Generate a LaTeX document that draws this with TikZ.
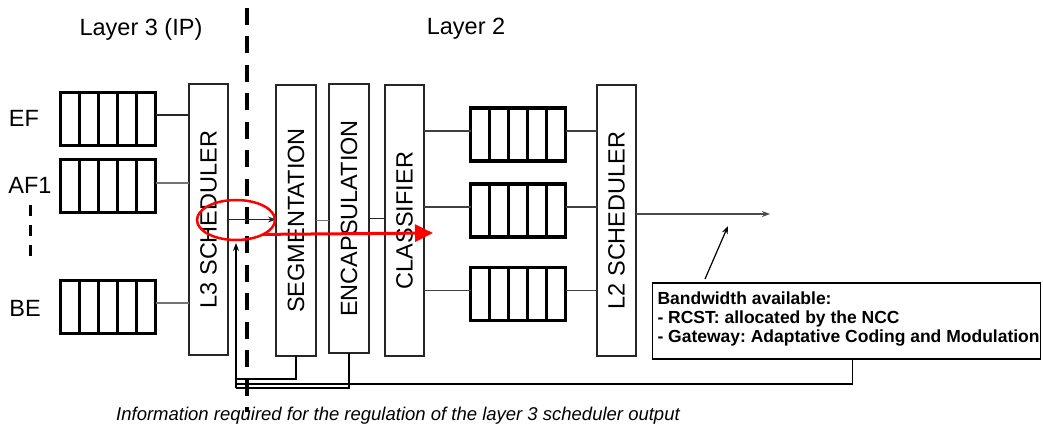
\documentclass[tikz,border=0pt]{standalone}
\usepackage{fontspec}
\setmainfont{Liberation Sans}
\usetikzlibrary{arrows.meta,calc,shapes.geometric}
\frenchspacing
\begin{document}
\begin{tikzpicture}[x=1pt,y=-1pt,
  every node/.style={inner sep=0pt, outer sep=0pt},
  unit/.style={draw=black!85, line width=1.3pt, minimum width=39pt, minimum height=271pt},
  vlabel/.style={rotate=90, font=\fontsize{23.5}{27}\selectfont},
  queue/.style={draw=black, line width=3.5pt, minimum width=95pt, minimum height=53pt},
  divider/.style={line width=2.3pt},
  big/.style={font=\fontsize{23.5}{27}\selectfont},
  conn/.style={line width=1.3pt, draw=black!85},
  gconn/.style={line width=1.3pt, draw=black!55},
  fb/.style={line width=1.2pt, draw=black},
  tip/.style={-{Stealth[length=8pt,width=6pt]}},
  hilite/.style={draw=red, line width=2.5pt, ellipse, minimum width=78pt, minimum height=40pt},
]
\fill[white] (0,0) rectangle (1043,430);

% titles
\node[big] (t3) at (141,29) {Layer 3 (IP)};
\node[big] (t2) at (466,29) {Layer 2};

% layer separator
\draw[line width=4pt, dash pattern=on 17pt off 11.5pt] (247,8) -- (247,412);

% class labels
\node[big] (lef) at (24,118) {EF};
\node[big] (laf) at (30,185) {AF1};
\node[big] (lbe) at (25,308) {BE};
\draw[line width=3pt, dash pattern=on 11pt off 9pt] (30,205) -- (30,258);

% layer 3 queues
\node[queue] (ef) at (108,119) {};
\node[queue] (af) at (108,186) {};
\node[queue] (be) at (108,307) {};

% layer 2 queues
\node[queue] (q1) at (518,134.5) {};
\node[queue] (q2) at (518,210.5) {};
\node[queue] (q3) at (518,294) {};

\foreach \q in {ef,af,be,q1,q2,q3}{
  \foreach \i in {1,...,4}{
    \draw[divider] ($(\q.north west)!\i/5!(\q.north east)$) -- ($(\q.south west)!\i/5!(\q.south east)$);
  }
}

% processing units
\node[unit, label={[vlabel]center:L3 SCHEDULER}] (l3) at (208.5,219.5) {};
\node[unit, minimum width=40pt, label={[vlabel]center:SEGMENTATION}] (seg) at (296,220.5) {};
\node[unit, minimum width=40pt, minimum height=269pt, label={[vlabel]center:ENCAPSULATION}] (enc) at (349,218.5) {};
\node[unit, label={[vlabel]center:CLASSIFIER}] (cls) at (404.5,220.5) {};
\node[unit, label={[vlabel]center:L2 SCHEDULER}] (l2) at (616.5,220.5) {};

% queue -> L3 scheduler
\draw[conn] ([yshift=4pt]ef.east) -- ([yshift=4pt]ef.east -| l3.west);
\draw[gconn] ([yshift=3pt]af.east) -- ([yshift=3pt]af.east -| l3.west);
\draw[gconn] ([yshift=4pt]be.east) -- ([yshift=4pt]be.east -| l3.west);

% chain
\draw[conn, tip] (l3.east) -- (seg.west |- l3.east);
\draw[gconn] (seg.east) -- (enc.west |- seg.east);
\draw[conn] (enc.east) -- (cls.west |- enc.east);

% classifier -> queues -> L2 scheduler
\foreach \q in {q1,q2,q3}{
  \draw[conn, draw=black!75, line width=1.5pt] ([yshift=3.5pt]\q.west -| cls.east) -- ([yshift=3.5pt]\q.west);
  \draw[conn, draw=black!75, line width=1.5pt] ([yshift=3.5pt]\q.east) -- ([yshift=3.5pt]\q.east -| l2.west);
}

% output
\coordinate (out) at (770,214);
\draw[line width=1.6pt, draw=black!70, tip] (out -| l2.east) -- (out);

% highlight
\node[hilite] (hl) at (236,220) {};
\coordinate (redtip) at (433,233);
\draw[red, line width=3pt, -{Triangle[length=18pt,width=17pt]}] (hl.-28) -- (redtip);

% bandwidth box
\node[draw=black, line width=1.5pt, anchor=north west, minimum width=388pt, minimum height=76pt] (bw) at (652.5,283) {};
\node[anchor=north west, align=left, font=\bfseries\fontsize{17.5}{19}\selectfont] (bwtext) at ($(bw.north west)+(5,8.5)$)
  {Bandwidth available:\\- RCST: allocated by the NCC\\- Gateway: Adaptative Coding and Modulation};
\coordinate (a1) at (705,279);
\coordinate (a2) at (728,226);
\draw[fb, tip] (a1) -- (a2);

% feedback
\coordinate (fbtip) at (236,243);
\coordinate (fbl) at (236,388);
\draw[fb, tip] (fbl) -- (fbtip);
\draw[fb] (seg.south) -- (seg.south |- 0,379) -- (fbtip |- 0,379);
\draw[fb] (enc.south) -- (enc.south |- fbl) -- (fbl);
\draw[fb] ($(bw.south west)+(200,0)$) -- ($(bw.south west)+(200,25)$) -- (fbtip |- 0,384);

% caption
\node[font=\itshape\fontsize{18.5}{22}\selectfont] (info) at (398,416) {Information required for the regulation of the layer 3 scheduler output};
\end{tikzpicture}
\end{document}
